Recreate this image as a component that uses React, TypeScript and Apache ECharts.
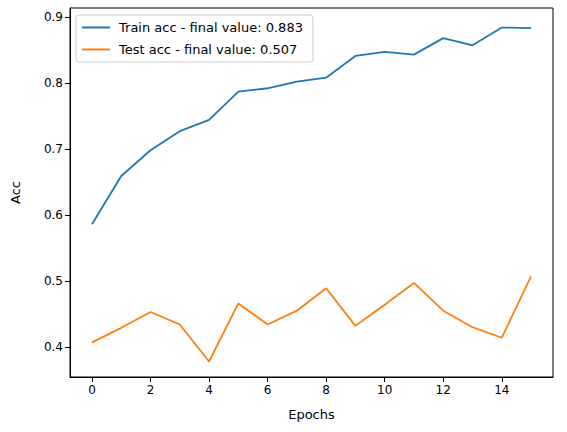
import React, { useEffect, useRef } from 'react';
import * as echarts from 'echarts';

const epochs = Array.from({ length: 16 }, (_, i) => i);
const trainAcc = [0.586, 0.659, 0.698, 0.727, 0.744, 0.787, 0.792, 0.802, 0.808, 0.841, 0.847, 0.843, 0.868, 0.857, 0.884, 0.883];
const testAcc = [0.407, 0.429, 0.453, 0.434, 0.378, 0.466, 0.434, 0.455, 0.489, 0.432, 0.464, 0.497, 0.455, 0.430, 0.414, 0.507];
const xTicks = [0, 2, 4, 6, 8, 10, 12, 14];
const yTicks = [0.4, 0.5, 0.6, 0.7, 0.8, 0.9];

const font = 'DejaVu Sans';

const App = () => {
    const chartRef = useRef<HTMLDivElement>(null);

    useEffect(() => {
        document.body.style.margin = '0';
        if (!chartRef.current) return;
        const chart = echarts.init(chartRef.current, null, { renderer: 'svg' });
        chart.setOption({
            animation: false,
            textStyle: { fontFamily: font },
            grid: { left: 70, right: 14, top: 8, bottom: 55, show: true, borderColor: '#000', borderWidth: 1 },
            legend: {
                orient: 'vertical',
                left: 76,
                top: 15,
                padding: [6, 10, 6, 6],
                itemGap: 9,
                itemWidth: 28,
                itemHeight: 2,
                borderColor: '#ccc',
                borderWidth: 1,
                borderRadius: 3,
                icon: 'rect',
                textStyle: { fontFamily: font, fontSize: 13, color: '#000', padding: [0, 0, 0, 4] },
                data: ['Train acc - final value: 0.883', 'Test acc - final value: 0.507']
            },
            xAxis: {
                type: 'value',
                min: -0.75,
                max: 15.75,
                name: 'Epochs',
                nameLocation: 'middle',
                nameGap: 31,
                nameTextStyle: { fontFamily: font, fontSize: 13, color: '#000' },
                splitLine: { show: false },
                axisLine: { show: true, onZero: false, lineStyle: { color: '#000' } },
                axisTick: { show: true, length: 5, customValues: xTicks, lineStyle: { color: '#000' } },
                axisLabel: { customValues: xTicks, fontSize: 12, color: '#000', margin: 7 }
            },
            yAxis: {
                type: 'value',
                min: 0.3545,
                max: 0.9136,
                name: 'Acc',
                nameLocation: 'middle',
                nameGap: 48,
                nameTextStyle: { fontFamily: font, fontSize: 13, color: '#000' },
                splitLine: { show: false },
                axisLine: { show: true, onZero: false, lineStyle: { color: '#000' } },
                axisTick: { show: true, length: 5, customValues: yTicks, lineStyle: { color: '#000' } },
                axisLabel: { customValues: yTicks, fontSize: 12, color: '#000', margin: 7, formatter: (v: number) => v.toFixed(1) }
            },
            series: [
                {
                    name: 'Train acc - final value: 0.883',
                    type: 'line',
                    data: epochs.map((e, i) => [e, trainAcc[i]]),
                    showSymbol: false,
                    color: '#1f77b4',
                    lineStyle: { width: 1.8 }
                },
                {
                    name: 'Test acc - final value: 0.507',
                    type: 'line',
                    data: epochs.map((e, i) => [e, testAcc[i]]),
                    showSymbol: false,
                    color: '#ff7f0e',
                    lineStyle: { width: 1.8 }
                }
            ]
        });
        return () => {
            chart.dispose();
        };
    }, []);

    return <div ref={chartRef} style={{ width: '567px', height: '432px' }} />;
};

export default App;
